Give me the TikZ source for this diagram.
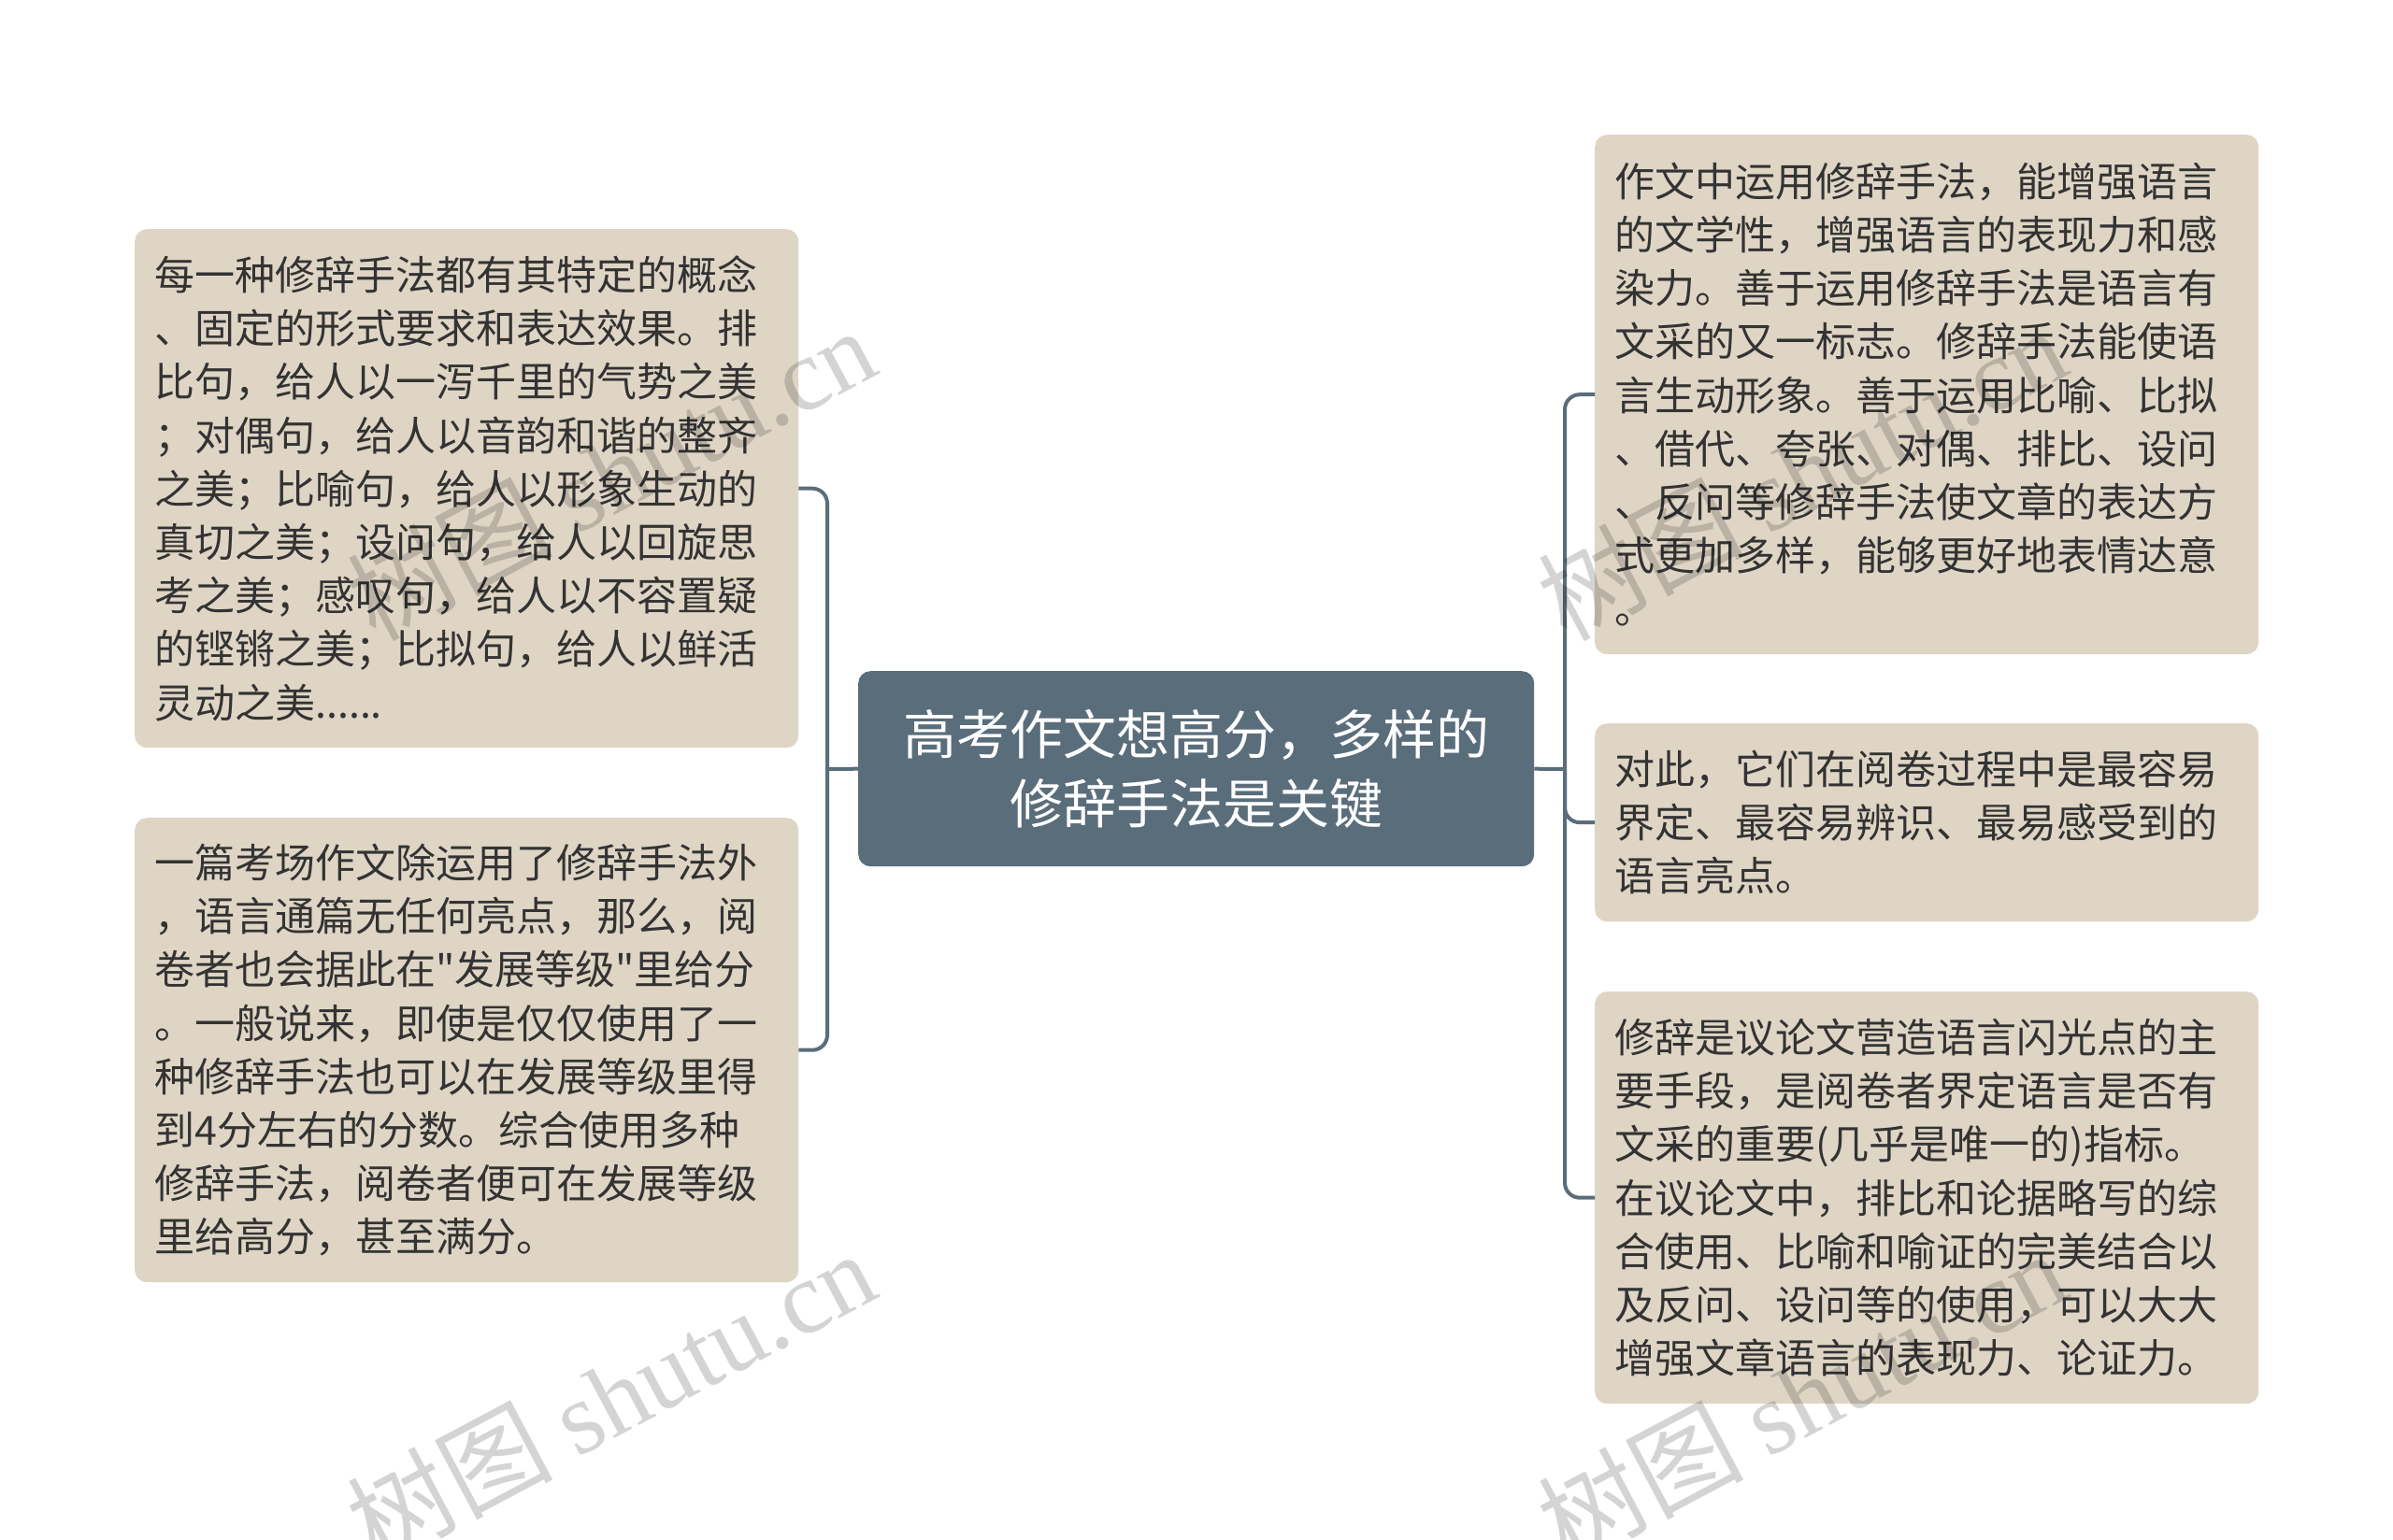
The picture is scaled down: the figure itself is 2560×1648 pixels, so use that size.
\documentclass[tikz,border=0pt]{standalone}
\usepackage{fontspec}
\setmainfont{Noto Sans CJK SC}
\newfontfamily\cjkfont{Noto Sans CJK SC}
\newfontfamily\wmserif{Liberation Serif}
\definecolor{slate}{HTML}{5A6D7B}
\definecolor{beige}{HTML}{DFD5C5}
\definecolor{ink}{HTML}{333333}
\begin{document}
\begin{tikzpicture}[x=1pt,y=-1pt,
  leaf/.style={fill=beige, rounded corners=13pt, anchor=north west, align=left,
    text width=668pt, inner xsep=21pt, inner ysep=0pt, text=ink,
    font=\cjkfont\fontsize{43}{57.2}\selectfont},
  hub/.style={fill=slate, rounded corners=13pt, text=white, align=center,
    font=\cjkfont\fontsize{57}{73.5}\selectfont, anchor=north west,
    minimum width=723pt, minimum height=209pt, inner sep=0pt},
  conn/.style={draw=slate, line width=4pt, rounded corners=16pt},
  wm/.style={text=black, opacity=0.17, rotate=28, font=\cjkfont\fontsize{110}{110}\selectfont}]
\useasboundingbox (0,0) rectangle (2560,1648);
\fill[white] (0,0) rectangle (2560,1648);

\coordinate (bl) at (885,823);
\coordinate (br) at (1674,823);

\node[hub] (c) at (918,718) {高考作文想高分，多样的\\修辞手法是关键};

\node[leaf, minimum height=555pt] (lt) at (144,245) {每一种修辞手法都有其特定的概念\\、固定的形式要求和表达效果。排\\比句，给人以一泻千里的气势之美\\；对偶句，给人以音韵和谐的整齐\\之美；比喻句，给人以形象生动的\\真切之美；设问句，给人以回旋思\\考之美；感叹句，给人以不容置疑\\的铿锵之美；比拟句，给人以鲜活\\灵动之美......};

\node[leaf, minimum height=497pt] (lb) at (144,875) {一篇考场作文除运用了修辞手法外\\，语言通篇无任何亮点，那么，阅\\卷者也会据此在"发展等级"里给分\\。一般说来，即使是仅仅使用了一\\种修辞手法也可以在发展等级里得\\到4分左右的分数。综合使用多种\\修辞手法，阅卷者便可在发展等级\\里给高分，甚至满分。};

\node[leaf, minimum height=556pt] (rt) at (1706,144) {作文中运用修辞手法，能增强语言\\的文学性，增强语言的表现力和感\\染力。善于运用修辞手法是语言有\\文采的又一标志。修辞手法能使语\\言生动形象。善于运用比喻、比拟\\、借代、夸张、对偶、排比、设问\\、反问等修辞手法使文章的表达方\\式更加多样，能够更好地表情达意\\。};

\node[leaf, minimum height=212pt] (rm) at (1706,774) {对此，它们在阅卷过程中是最容易\\界定、最容易辨识、最易感受到的\\语言亮点。};

\node[leaf, minimum height=441pt] (rb) at (1706,1061) {修辞是议论文营造语言闪光点的主\\要手段，是阅卷者界定语言是否有\\文采的重要(几乎是唯一的)指标。\\在议论文中，排比和论据略写的综\\合使用、比喻和喻证的完美结合以\\及反问、设问等的使用，可以大大\\增强文章语言的表现力、论证力。};

\draw[conn] (lt.east) -| (bl) |- (lb.east);
\draw[conn] (c.west) -- (bl);
\draw[conn] (rt.west) -| (br) |- (rb.west);
\draw[conn] (br) |- (rm.west);
\draw[conn] (c.east) -- (br);

\node[wm] (w1) at (653,506) {树图 {\wmserif shutu.cn}};
\node[wm] (w2) at (653,1494) {树图 {\wmserif shutu.cn}};
\node[wm] (w3) at (1927,506) {树图 {\wmserif shutu.cn}};
\node[wm] (w4) at (1927,1494) {树图 {\wmserif shutu.cn}};
\end{tikzpicture}
\end{document}
